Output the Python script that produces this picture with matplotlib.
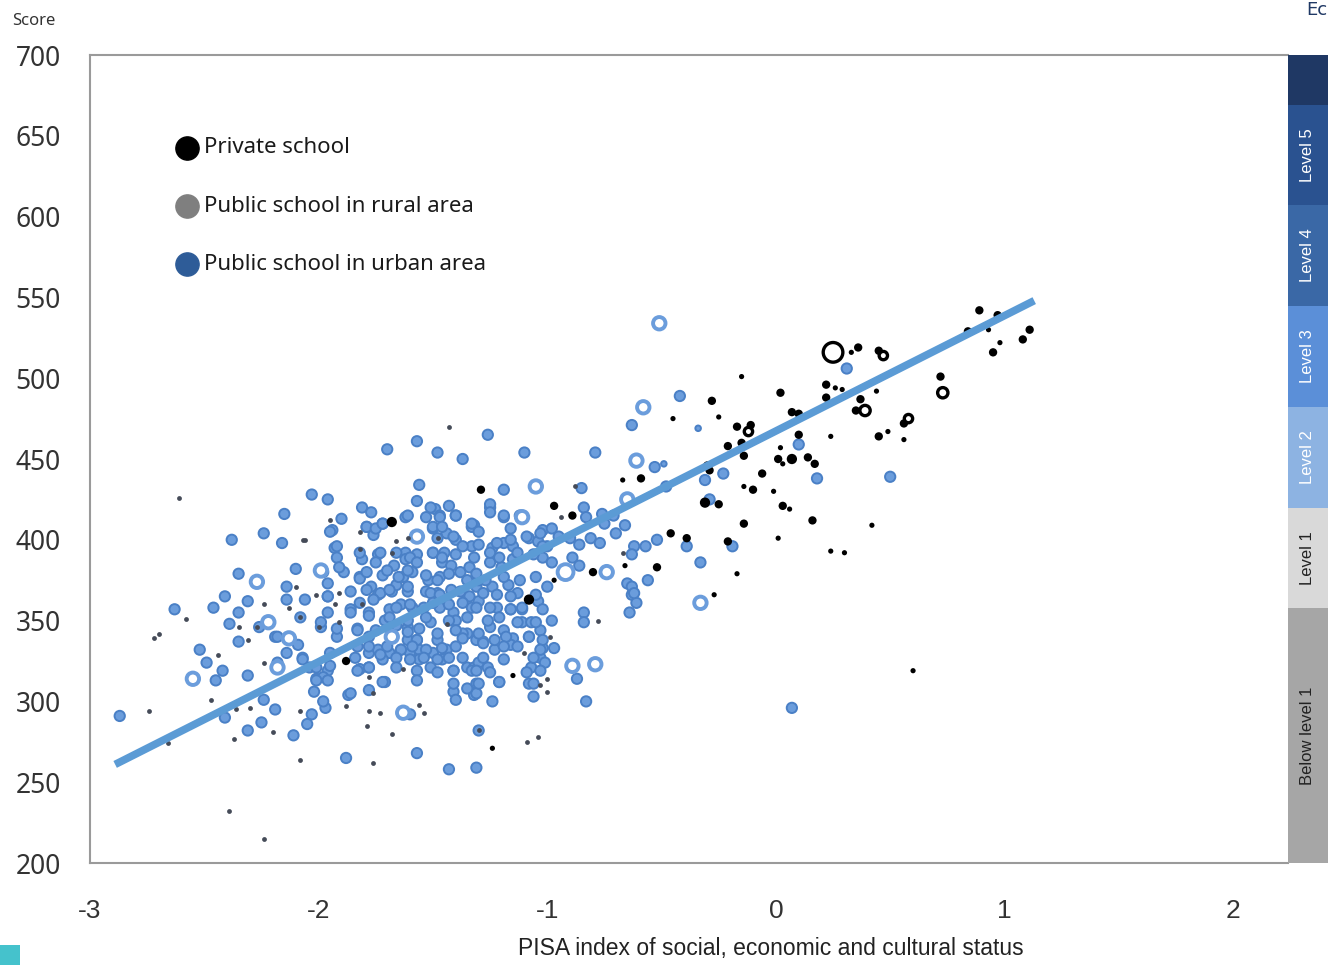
"""PISA score vs ESCS index by school type, with proficiency level bar."""

import numpy as np
import matplotlib

matplotlib.use("Agg")
import matplotlib.pyplot as plt
from matplotlib.patches import Rectangle

plt.rcParams["axes.unicode_minus"] = False

# public urban schools: (ESCS index, score, size class 1=small 2=normal 3=large ring 4=big ring)
urban = [
    (-2.03, 428, 2), (-1.96, 425, 2), (-2.15, 416, 2), (-2.24, 404, 2), (-2.38, 400, 2),
    (-2.16, 398, 2), (-2.10, 382, 2), (-1.99, 381, 3), (-2.35, 379, 2), (-2.27, 374, 3),
    (-2.14, 371, 2), (-1.96, 373, 2), (-2.41, 365, 2), (-2.31, 362, 2), (-2.14, 363, 2),
    (-2.06, 363, 2), (-1.96, 365, 2), (-2.63, 357, 2), (-2.46, 358, 2), (-2.35, 355, 2),
    (-2.22, 349, 3), (-2.26, 346, 2), (-2.39, 348, 2), (-2.08, 352, 2), (-1.96, 355, 2),
    (-2.19, 340, 2), (-2.13, 339, 3), (-2.09, 335, 2), (-2.35, 337, 2), (-2.52, 332, 2),
    (-2.14, 330, 2), (-2.07, 327, 2), (-2.18, 321, 3), (-2.49, 324, 2), (-2.42, 319, 2),
    (-2.31, 316, 2), (-2.55, 314, 3), (-2.45, 313, 2), (-2.04, 321, 2), (-2.01, 314, 2),
    (-1.96, 319, 2), (-2.02, 306, 2), (-2.24, 301, 2), (-2.19, 295, 2), (-2.03, 292, 2),
    (-1.97, 296, 2), (-2.87, 291, 2), (-2.41, 290, 2), (-2.25, 287, 2), (-2.05, 286, 2),
    (-2.31, 282, 2), (-2.11, 279, 2),
    (-1.57, 461, 2), (-1.70, 456, 2), (-1.48, 454, 2), (-1.37, 450, 2), (-1.56, 434, 2),
    (-1.57, 424, 2), (-1.81, 420, 2), (-1.77, 417, 2), (-1.62, 414, 2), (-1.53, 414, 2),
    (-1.49, 419, 2), (-1.40, 415, 2), (-1.47, 415, 2), (-1.90, 413, 2), (-1.79, 408, 2),
    (-1.72, 410, 2), (-1.57, 402, 3), (-1.50, 407, 2), (-1.44, 404, 2), (-1.32, 409, 2),
    (-1.94, 406, 2), (-1.76, 403, 2), (-1.93, 395, 2), (-1.74, 391, 2), (-1.62, 392, 2),
    (-1.57, 391, 2), (-1.50, 392, 2), (-1.45, 392, 2), (-1.40, 400, 2), (-1.33, 396, 2),
    (-1.92, 389, 2), (-1.81, 388, 2), (-1.75, 386, 2), (-1.67, 384, 2), (-1.62, 388, 2),
    (-1.46, 386, 2), (-1.42, 384, 2), (-1.38, 380, 2), (-1.34, 383, 2), (-1.98, 380, 2),
    (-1.89, 380, 2), (-1.82, 377, 2), (-1.72, 378, 2), (-1.63, 377, 2), (-1.59, 380, 2),
    (-1.52, 375, 2), (-1.47, 377, 2), (-1.86, 368, 2), (-1.77, 371, 2), (-1.74, 366, 2),
    (-1.68, 368, 2), (-1.66, 372, 2), (-1.61, 368, 2), (-1.53, 368, 2), (-1.48, 367, 2),
    (-1.42, 369, 2), (-1.35, 365, 2), (-1.31, 371, 2), (-1.96, 365, 2), (-1.86, 357, 2),
    (-1.78, 355, 2), (-1.69, 357, 2), (-1.64, 360, 2), (-1.59, 358, 2), (-1.54, 358, 2),
    (-1.47, 358, 2), (-1.41, 355, 2), (-1.33, 358, 2), (-1.99, 346, 2), (-1.83, 345, 2),
    (-1.71, 350, 2), (-1.66, 347, 2), (-1.61, 346, 2), (-1.56, 345, 2), (-1.51, 349, 2),
    (-1.40, 350, 2), (-1.35, 342, 2), (-1.92, 340, 2), (-1.78, 340, 2), (-1.68, 340, 2),
    (-1.61, 338, 2), (-1.57, 338, 2), (-1.48, 338, 2), (-1.37, 342, 2), (-1.31, 338, 2),
    (-1.78, 330, 2), (-1.74, 332, 2), (-1.69, 330, 2), (-1.64, 332, 2), (-1.60, 330, 2),
    (-1.56, 332, 2), (-1.50, 330, 2), (-1.44, 332, 2), (-1.84, 327, 2), (-1.95, 322, 2),
    (-1.82, 320, 2), (-1.78, 321, 2), (-1.72, 326, 2), (-1.56, 326, 2), (-1.51, 321, 2),
    (-1.46, 326, 2), (-1.41, 319, 2), (-1.35, 321, 2), (-1.32, 321, 2), (-1.98, 315, 2),
    (-1.71, 312, 2), (-1.41, 306, 2), (-1.40, 301, 2), (-1.32, 304, 2), (-1.87, 304, 2),
    (-1.98, 300, 2), (-1.63, 293, 3), (-1.60, 292, 2), (-1.88, 265, 2), (-1.57, 268, 2),
    (-1.43, 258, 2), (-1.31, 259, 2),
    (-1.26, 465, 2), (-1.10, 454, 2), (-0.79, 454, 2), (-0.63, 471, 2), (-0.61, 449, 3),
    (-1.19, 431, 2), (-1.05, 433, 3), (-0.85, 432, 2), (-0.65, 425, 3), (-1.33, 408, 2),
    (-1.25, 420, 2), (-1.19, 414, 2), (-1.11, 414, 3), (-1.16, 407, 2), (-1.02, 406, 2),
    (-0.98, 407, 2), (-0.84, 420, 2), (-0.83, 414, 2), (-0.76, 416, 2), (-0.71, 415, 2),
    (-0.75, 410, 2), (-0.70, 404, 2), (-0.66, 409, 2), (-0.62, 396, 2), (-0.63, 391, 2),
    (-1.30, 397, 2), (-1.24, 395, 2), (-1.19, 398, 2), (-1.15, 396, 2), (-1.08, 401, 2),
    (-1.04, 399, 2), (-1.00, 396, 2), (-0.95, 402, 2), (-0.90, 401, 2), (-0.86, 397, 2),
    (-0.81, 401, 2), (-0.77, 398, 2), (-1.32, 389, 2), (-1.25, 386, 2), (-1.20, 383, 2),
    (-1.15, 388, 2), (-1.02, 389, 2), (-0.98, 386, 2), (-0.92, 380, 4), (-0.89, 389, 2),
    (-0.86, 384, 2), (-0.74, 380, 3), (-0.63, 366, 2), (-0.61, 361, 2), (-1.30, 375, 2),
    (-1.24, 371, 2), (-1.17, 372, 2), (-1.13, 367, 2), (-1.04, 362, 2), (-1.30, 362, 2),
    (-1.22, 358, 2), (-1.16, 357, 2), (-1.11, 357, 2), (-0.98, 350, 2), (-0.84, 355, 2),
    (-0.84, 349, 2), (-0.64, 355, 2), (-1.25, 346, 2), (-1.19, 344, 2), (-1.11, 349, 2),
    (-1.07, 349, 2), (-1.03, 344, 2), (-1.28, 337, 2), (-1.15, 339, 2), (-1.08, 340, 2),
    (-1.23, 332, 2), (-1.16, 335, 2), (-1.02, 333, 2), (-0.97, 333, 2), (-1.03, 327, 2),
    (-1.30, 324, 2), (-1.26, 321, 2), (-1.07, 321, 2), (-1.01, 324, 2), (-0.89, 322, 3),
    (-0.79, 323, 3), (-1.33, 319, 2), (-1.31, 311, 2), (-1.21, 312, 2), (-1.08, 311, 2),
    (-0.87, 314, 2), (-1.31, 305, 2), (-1.24, 300, 2), (-1.06, 303, 2), (-0.83, 300, 2),
    (-1.30, 282, 2),
    (-0.51, 534, 3), (-0.58, 482, 3), (-0.42, 489, 2), (-0.34, 469, 1), (-0.53, 445, 2),
    (-0.49, 447, 1), (-0.23, 441, 2), (-0.31, 437, 2), (-0.48, 433, 2), (-0.29, 425, 2),
    (0.10, 459, 2), (0.18, 438, 2), (-0.52, 400, 2), (-0.57, 396, 2), (-0.39, 396, 2),
    (-0.19, 396, 2), (-0.33, 386, 2), (-0.56, 375, 2), (-0.65, 373, 2), (-0.63, 371, 2),
    (-0.62, 367, 2), (-0.33, 361, 3), (0.07, 296, 2), (0.50, 439, 2), (0.31, 506, 2),
    # dense core, second reading
    (-1.61, 415, 2), (-1.51, 420, 2), (-1.43, 421, 2), (-1.40, 415, 2), (-1.25, 422, 2),
    (-1.25, 417, 2), (-1.19, 415, 2), (-1.12, 415, 2), (-1.33, 410, 2), (-1.30, 405, 2),
    (-1.47, 414, 2), (-1.50, 408, 2), (-1.46, 408, 2), (-1.79, 408, 2), (-1.75, 407, 2),
    (-1.72, 410, 2), (-1.95, 405, 2), (-1.48, 401, 2), (-1.41, 402, 2), (-1.37, 396, 2),
    (-1.22, 398, 2), (-1.16, 400, 2), (-1.09, 402, 2), (-1.03, 404, 2), (-1.92, 396, 2),
    (-1.82, 392, 2), (-1.73, 392, 2), (-1.66, 392, 2), (-1.60, 389, 2), (-1.57, 386, 2),
    (-1.50, 392, 2), (-1.46, 389, 2), (-1.40, 391, 2), (-1.25, 392, 2), (-1.21, 389, 2),
    (-1.13, 392, 2), (-1.06, 391, 2), (-1.02, 396, 2), (-1.91, 383, 2), (-1.82, 376, 2),
    (-1.79, 380, 2), (-1.70, 381, 2), (-1.65, 377, 2), (-1.61, 381, 2), (-1.53, 378, 2),
    (-1.48, 375, 2), (-1.43, 379, 2), (-1.35, 375, 2), (-1.31, 379, 2), (-1.27, 375, 2),
    (-1.19, 377, 2), (-1.12, 375, 2), (-1.05, 377, 2), (-1.00, 371, 2), (-1.79, 369, 2),
    (-1.73, 367, 2), (-1.69, 369, 2), (-1.61, 371, 2), (-1.51, 367, 2), (-1.47, 366, 2),
    (-1.38, 368, 2), (-1.34, 365, 2), (-1.28, 367, 2), (-1.22, 366, 2), (-1.16, 365, 2),
    (-1.05, 366, 2), (-1.82, 361, 2), (-1.76, 363, 2), (-1.66, 358, 2), (-1.60, 360, 2),
    (-1.50, 361, 2), (-1.43, 360, 2), (-1.37, 361, 2), (-1.31, 358, 2), (-1.25, 358, 2),
    (-1.16, 357, 2), (-1.11, 358, 2), (-1.02, 357, 2), (-1.86, 355, 2), (-1.78, 353, 2),
    (-1.69, 352, 2), (-1.61, 350, 2), (-1.53, 352, 2), (-1.43, 350, 2), (-1.35, 352, 2),
    (-1.26, 350, 2), (-1.21, 352, 2), (-1.13, 349, 2), (-1.05, 349, 2), (-2.18, 340, 2),
    (-1.99, 349, 2), (-1.92, 345, 2), (-1.83, 344, 2), (-1.75, 344, 2), (-1.68, 340, 3),
    (-1.61, 343, 2), (-1.57, 338, 2), (-1.48, 342, 2), (-1.40, 344, 2), (-1.37, 339, 2),
    (-1.30, 342, 2), (-1.23, 338, 2), (-1.18, 340, 2), (-1.08, 340, 2), (-1.02, 338, 2),
    (-1.83, 334, 2), (-1.78, 334, 2), (-1.70, 334, 2), (-1.64, 332, 2), (-1.59, 334, 2),
    (-1.53, 332, 2), (-1.46, 333, 2), (-1.40, 334, 2), (-1.28, 336, 2), (-1.19, 334, 2),
    (-1.13, 334, 2), (-1.03, 332, 2), (-2.07, 326, 2), (-1.95, 330, 2), (-1.73, 329, 2),
    (-1.66, 327, 2), (-1.60, 326, 2), (-1.54, 327, 2), (-1.48, 326, 2), (-1.43, 327, 2),
    (-1.37, 327, 2), (-1.28, 327, 2), (-1.19, 326, 2), (-1.06, 327, 2), (-2.18, 324, 2),
    (-2.01, 321, 2), (-1.83, 319, 2), (-1.78, 321, 2), (-1.66, 321, 2), (-1.57, 319, 2),
    (-1.48, 318, 2), (-1.41, 319, 2), (-1.31, 319, 2), (-1.25, 318, 2), (-1.09, 318, 2),
    (-1.03, 319, 2), (-1.96, 313, 2), (-1.72, 312, 2), (-1.57, 313, 2), (-1.41, 311, 2),
    (-1.35, 308, 2), (-1.30, 311, 2), (-1.21, 312, 2), (-1.06, 311, 2), (-2.01, 313, 2),
    (-1.86, 305, 2), (-1.78, 307, 2),
]

# public rural schools (small grey dots): (ESCS index, score)
rural = [
    (-2.61, 426), (-2.06, 400), (-2.10, 371), (-2.24, 360), (-2.01, 366), (-2.58, 351),
    (-2.35, 346), (-2.13, 358), (-2.00, 346), (-2.70, 342), (-2.72, 339), (-2.31, 338),
    (-2.44, 329), (-2.24, 324), (-2.47, 301), (-2.74, 294), (-2.36, 295), (-2.30, 296),
    (-2.08, 294), (-2.37, 277), (-2.20, 281), (-2.66, 274), (-2.08, 264), (-2.39, 232),
    (-2.24, 215), (-1.43, 470), (-1.95, 412), (-1.61, 401), (-1.48, 401), (-1.82, 394),
    (-1.68, 392), (-1.91, 367), (-1.81, 360), (-1.91, 349), (-1.44, 348), (-1.78, 315),
    (-1.76, 305), (-1.88, 297), (-1.78, 294), (-1.73, 293), (-1.56, 298), (-1.54, 293),
    (-1.63, 320), (-1.30, 282), (-1.79, 285), (-1.68, 280), (-1.76, 262), (-0.88, 433),
    (-0.94, 414), (-0.67, 392), (-0.78, 350), (-0.99, 340), (-1.10, 330), (-1.03, 310),
    (-1.00, 314), (-1.00, 306), (-1.09, 275), (-1.04, 278), (-1.82, 405), (-1.66, 399),
    (-1.93, 360), (-2.08, 352), (-2.07, 400), (-2.27, 346),
]

# private schools: (ESCS index, score, size class)
private = [
    (-1.68, 411, 3), (-1.88, 325, 2), (-1.29, 431, 2), (-1.08, 363, 3), (-0.97, 421, 2),
    (-0.89, 415, 2), (-0.80, 380, 2), (-0.97, 375, 1), (-0.52, 383, 2), (-1.15, 316, 1),
    (-1.24, 271, 1), (-0.66, 384, 1), (-0.59, 438, 2), (-0.67, 437, 1), (-0.45, 475, 1),
    (-0.28, 486, 2), (-0.25, 476, 1), (-0.15, 501, 1), (-0.17, 470, 2), (-0.11, 471, 2),
    (-0.21, 458, 2), (-0.15, 460, 2), (-0.14, 452, 2), (-0.30, 446, 2), (-0.29, 443, 2),
    (0.02, 491, 2), (0.07, 479, 2), (0.10, 478, 2), (0.10, 465, 2), (0.02, 457, 1),
    (0.01, 450, 2), (0.03, 447, 1), (0.07, 450, 3), (0.14, 451, 2), (0.17, 447, 2),
    (-0.06, 441, 2), (-0.14, 433, 1), (-0.10, 431, 2), (-0.01, 430, 1), (-0.31, 423, 3),
    (-0.25, 422, 2), (0.03, 421, 2), (0.06, 419, 1), (0.16, 412, 2), (-0.14, 410, 2),
    (0.01, 401, 1), (0.24, 464, 1), (0.24, 393, 1), (0.30, 392, 1), (-0.46, 404, 2),
    (-0.39, 401, 2), (-0.21, 399, 2), (-0.17, 379, 1), (-0.27, 366, 1), (0.22, 496, 2),
    (0.22, 488, 2), (0.26, 494, 1), (0.36, 519, 2), (0.33, 516, 1), (0.45, 517, 2),
    (0.29, 493, 1), (0.37, 487, 2), (0.44, 492, 1), (0.35, 480, 2), (0.56, 472, 2),
    (0.45, 464, 2), (0.49, 467, 1), (0.56, 462, 1), (0.42, 409, 1), (0.60, 319, 1),
    (0.72, 501, 2), (0.89, 542, 2), (0.97, 539, 2), (0.84, 529, 2), (0.93, 530, 1),
    (0.95, 516, 2), (0.98, 522, 1), (1.11, 530, 2), (1.08, 524, 2),
]
# private schools drawn as open rings: (ESCS index, score, size class)
private_rings = [
    (0.25, 516, 4), (0.47, 514, 2), (0.39, 480, 3), (0.58, 475, 2), (0.73, 491, 3),
    (-0.12, 467, 2),
]

trend_x = [-2.89, 1.13]
trend_y = [261, 548]

level_edges = [200, 358, 420, 482, 545, 607, 669, 700]
level_names = ["Below level 1", "Level 1", "Level 2", "Level 3", "Level 4", "Level 5", ""]
level_colors = ["#a6a6a6", "#d9d9d9", "#8db3e2", "#5b8fd8", "#3a68a6", "#2a5290", "#1f3864"]
level_text = ["#222222", "#222222", "white", "white", "white", "white", "white"]

legend_labels = ["Private school", "Public school in rural area", "Public school in urban area"]
legend_colors = ["black", "#7f7f7f", "#2e5c98"]

BLUE = "#6b9ddc"
BLUE_EDGE = "#4a80c6"
SIZE = {1: 16, 2: 55, 3: 80, 4: 130}
PSIZE = {1: 14, 2: 36, 3: 55, 4: 200}
NARROW = ["Liberation Sans", "DejaVu Sans"]
ROUND = ["Noto Sans", "DejaVu Sans"]

fig = plt.figure(figsize=(13.3, 9.65), dpi=100)
ax = fig.add_axes([90 / 1330, 102 / 965, 1198 / 1330, 808 / 965])

u = np.array(urban)
filled = u[:, 2] < 3
ax.scatter(u[filled, 0], u[filled, 1], s=[SIZE[int(w)] for w in u[filled, 2]],
           c=BLUE, edgecolors=BLUE_EDGE, linewidths=1.4, zorder=2)
ax.scatter(u[~filled, 0], u[~filled, 1], s=[SIZE[int(w)] for w in u[~filled, 2]],
           facecolors="white", edgecolors=BLUE, linewidths=2.8, zorder=2)

r = np.array(rural)
ax.scatter(r[:, 0], r[:, 1], s=12, c="#454b58", linewidths=0, zorder=3)

p = np.array(private)
ax.scatter(p[:, 0], p[:, 1], s=[PSIZE[int(w)] for w in p[:, 2]], c="black",
           linewidths=0, zorder=4)
pr = np.array(private_rings)
ax.scatter(pr[:, 0], pr[:, 1], s=[PSIZE[int(w)] for w in pr[:, 2]], facecolors="white",
           edgecolors="black", linewidths=2.4, zorder=4)

ax.plot(trend_x, trend_y, color="#5b9bd5", lw=5.5, solid_capstyle="butt", zorder=5)

ax.set_xlim(-3, 2.24)
ax.set_ylim(200, 700)
ax.set_xticks([-3, -2, -1, 0, 1, 2])
ax.set_yticks(range(200, 701, 50))
ax.tick_params(length=0)
ax.tick_params(axis="y", pad=21, labelsize=19, labelcolor="#333333")
ax.tick_params(axis="x", pad=26, labelsize=19, labelcolor="#333333")
for lab in ax.get_xticklabels():
    lab.set_family(NARROW)
for lab in ax.get_yticklabels():
    lab.set_family(ROUND)
for side in ["top", "left", "bottom"]:
    ax.spines[side].set_color("#9a9a9a")
    ax.spines[side].set_linewidth(1.5)
ax.spines["right"].set_visible(False)
ax.set_xlabel("PISA index of social, economic and cultural status", fontsize=16.5,
              family=NARROW, color="#222222")
ax.xaxis.set_label_coords((771 - 90) / 1198, -0.092)

# legend drawn by hand, as in the original
for i, (lab, col) in enumerate(zip(legend_labels, legend_colors)):
    yy = 0.885 - i * 0.072
    ax.scatter([0.081], [yy], s=280, c=col, transform=ax.transAxes, zorder=6,
               clip_on=False)
    ax.text(0.095, yy, lab, transform=ax.transAxes, fontsize=16, va="center",
            family=ROUND, color="#1a1a1a")

fig.text(12 / 1330, 1 - 21 / 965, "Score", fontsize=12, va="center",
         family=ROUND, color="#333333")

# proficiency level bar on the right
bar = fig.add_axes([1288 / 1330, 97 / 965, 40 / 1330, 813 / 965])
for i in range(len(level_names)):
    lo, hi = level_edges[i], level_edges[i + 1]
    bar.add_patch(Rectangle((0, lo), 1, hi - lo, color=level_colors[i], lw=0))
    if level_names[i]:
        bar.text(0.5, (lo + hi) / 2, level_names[i], rotation=90, ha="center",
                 va="center", fontsize=12, color=level_text[i], family=NARROW)
bar.set_xlim(0, 1)
bar.set_ylim(197, 700)
bar.axis("off")

# cut-off bits at the picture edges
fig.text(1327 / 1330, 0.999, "Ec", fontsize=13, ha="right", va="top", color="#1f3864")
fig.patches.append(Rectangle((0, 0), 20 / 1330, 20 / 965, transform=fig.transFigure,
                             color="#45c2cc", lw=0))

fig.savefig("out.png", dpi=100)
